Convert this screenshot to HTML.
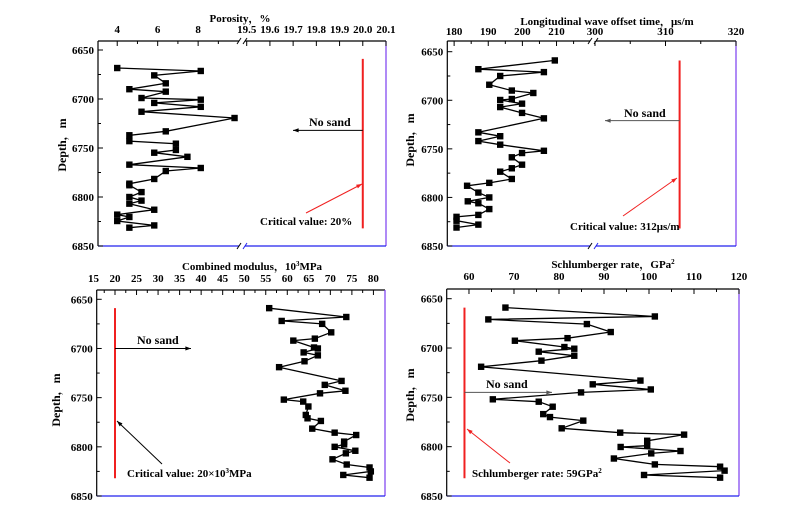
<!DOCTYPE html>
<html><head><meta charset="utf-8"><style>
body{margin:0;background:#fff;}
svg{display:block;font-family:"Liberation Serif","Noto Serif CJK SC",serif;font-weight:bold;}
</style></head><body>
<svg id="chart" width="796" height="525" viewBox="0 0 796 525" xmlns="http://www.w3.org/2000/svg"></svg>
<script>
const depthTicks=[6650,6700,6750,6800,6850];
const p1Depth=[6668.4,6671.4,6675.9,6684,6690,6692.5,6699,6700.7,6704,6708,6713,6719.4,6733,6737,6743,6745.6,6752,6754.8,6759,6767,6770.4,6773.5,6781.6,6786.4,6788,6795,6800,6803.7,6806.8,6813,6818,6820.4,6824.5,6829,6831.3];
const p1Vals=[4,8.13,5.83,6.4,4.6,6.4,5.2,8.13,5.83,8.13,5.2,9.8,6.4,4.6,4.6,6.9,6.9,5.83,7.47,4.6,8.13,6.4,5.83,4.6,4.6,5.2,4.6,5.2,4.6,5.83,4,4.6,4,5.83,4.6];
const p1Ticks1=[4,6,8];const p1Ticks2=[19.5,19.6,19.7,19.8,19.9,20.0,20.1];
const p2Depth=[6659,6668,6671,6675,6684,6690,6692.5,6698.7,6699.7,6703.5,6707,6713,6718.6,6733,6737,6742,6745.7,6752,6754.3,6758.7,6766.3,6770,6773.5,6781,6785,6788,6795,6800,6804,6806,6812,6818,6820,6824,6828,6831];
const p2Vals=[209.5,187.1,206.3,193.5,190.3,196.9,203.2,196.9,193.5,199.9,193.5,199.9,206.3,187.1,193.5,187.1,193.5,206.3,199.9,196.9,199.9,196.9,193.5,196.9,190.3,183.8,187.1,190.3,184,187.1,190.3,187.1,180.7,180.7,187.1,180.7];
const p2Ticks1=[180,190,200,210];const p2Ticks2=[300,310,320];
const p3Depth=[6659,6668,6672,6675,6683.6,6690,6692,6699,6700,6704,6707,6713,6719,6733,6737,6743,6745.6,6752,6754,6759,6767.6,6771,6773.7,6781.5,6785.6,6788,6794.7,6797.5,6800,6804,6806.6,6812.7,6818,6821,6825,6828.6,6831.4];
const p3Vals=[55.8,73.7,58.7,68.1,70.2,66.4,61.4,66.2,67.1,63.8,67.1,64,58.1,72.6,68.7,73.5,67.6,59.2,63.7,64.9,64.3,64.7,67.8,65.8,71,76,73.2,73.2,71,75.8,73.6,70.5,73.8,79.1,79.4,73,79.1];
const p3Ticks=[15,20,25,30,35,40,45,50,55,60,65,70,75,80];
const p4Depth=[6659,6668,6671,6675.7,6683.8,6690,6692.6,6699,6700.7,6703.7,6707.8,6712.8,6719,6733,6736.8,6742,6745,6752,6754.4,6759.5,6767,6770,6773.6,6781.4,6785.8,6787.8,6794,6799,6800.3,6804.4,6806.8,6812,6818,6820.3,6824.3,6828.7,6831.4];
const p4Vals=[68.1,101.3,64.3,86.2,91.5,81.9,70.2,81.2,83.4,75.5,83.4,76.1,62.7,98.1,87.5,100.4,84.9,65.3,75.5,78.6,76.5,78,85.4,80.6,93.6,107.8,99.6,99.6,93.7,107,100.5,92.2,101.3,115.8,116.8,98.9,115.8];
const p4Ticks=[60,70,80,90,100,110,120];

const NS="http://www.w3.org/2000/svg";const svg=document.getElementById('chart');
function mk(tag,attrs,parent){const e=document.createElementNS(NS,tag);for(const k in attrs)e.setAttribute(k,attrs[k]);(parent||svg).appendChild(e);return e;}
function txt(s,x,y,size,anchor,parent){const t=mk('text',{x:x,y:y,'font-size':size,'text-anchor':anchor||'middle'},parent);t.textContent=s;return t;}
function segScale(segs){return v=>{for(const s of segs){if(v>=s.d0-1e-9&&v<=s.d1+1e-9)return s.p0+(v-s.d0)/(s.d1-s.d0)*(s.p1-s.p0);}return segs[0].p0;};}

function panel(cfg){
  const g=mk('g',{});
  
  
  const x=segScale(cfg.segs);
  const y=d=>cfg.y0+(d-6650)/200*(cfg.y1-cfg.y0);
  const L=cfg.left,R=cfg.right,T=cfg.top,B=cfg.y1;
  // axes
  mk('line',{x1:L,y1:T,x2:R,y2:T,stroke:'#000','stroke-width':1.2},g);
  mk('line',{x1:L,y1:T,x2:L,y2:B,stroke:'#000','stroke-width':1.2},g);
  mk('line',{x1:R,y1:T,x2:R,y2:B,stroke:'#7a3cf0','stroke-width':1.2},g);
  mk('line',{x1:L,y1:B,x2:R,y2:B,stroke:'#2222ee','stroke-width':1.2},g);
  if(cfg.brk){const bx=cfg.brk;
    mk('rect',{x:bx-1,y:T-3,width:cfg.brkW,height:6,fill:'#fff'},g);
    mk('rect',{x:bx-1,y:B-3,width:cfg.brkW,height:6,fill:'#fff'},g);
    for(const yy of [T,B]){mk('line',{x1:bx-3,y1:yy+3,x2:bx+1,y2:yy-3,stroke:'#000','stroke-width':1},g);mk('line',{x1:bx-3+cfg.brkW,y1:yy+3,x2:bx+1+cfg.brkW,y2:yy-3,stroke:yy===B?'#2222ee':'#000','stroke-width':1},g);}
  }
  // y ticks
  const ya=mk('g',{},g);
  depthTicks.forEach((d,i)=>{const yy=y(d);mk('line',{x1:L,y1:yy,x2:L+5,y2:yy,stroke:'#000'},ya);txt(String(d),L-4,yy+4,11,'end',ya);
    if(i<depthTicks.length-1){const ym=y(d+25);mk('line',{x1:L,y1:ym,x2:L+3,y2:ym,stroke:'#000'},ya);}});
  const yt=txt('Depth，m',0,0,12,'middle',g);yt.setAttribute('transform','translate('+cfg.ytX+','+cfg.ytY+') rotate(-90)');
  
  // x ticks
  const xa=mk('g',{},g);
  cfg.ticks.forEach(tk=>{const xx=x(tk.v);if(xx>=L-0.5&&xx<=R+0.5)mk('line',{x1:xx,y1:T,x2:xx,y2:T+5,stroke:'#000'},xa);txt(tk.label,xx,cfg.tickY,11,'middle',xa);});
  cfg.minor.forEach(v=>{const xx=x(v);mk('line',{x1:xx,y1:T,x2:xx,y2:T+3,stroke:'#000'},xa);});
  const xt=mk('text',{x:cfg.titleX,y:cfg.titleY,'font-size':11,'text-anchor':'middle'},g);
  xt.innerHTML=cfg.title;
  // critical line
  const cl=mk('line',{x1:x(cfg.crit),y1:y(6659),x2:x(cfg.crit),y2:y(6832),stroke:'#f02020','stroke-width':2},g);
  
  // series
  const pts=cfg.vals.map((v,i)=>x(v).toFixed(1)+','+y(cfg.depth[i]).toFixed(1)).join(' ');
  const pl=mk('polyline',{points:pts,fill:'none',stroke:'#000','stroke-width':1.3},g);
  
  cfg.vals.forEach((v,i)=>{const r=mk('rect',{x:x(v)-3.2,y:y(cfg.depth[i])-3.2,width:6.4,height:6.4,fill:'#000'},g);
    });
  // annotations
  cfg.ann(g,x,y);
}
function arrow(g,x1,y1,x2,y2,col,name){
  const a=mk('g',{},g);
  mk('line',{x1:x1,y1:y1,x2:x2,y2:y2,stroke:col,'stroke-width':1},a);
  const ang=Math.atan2(y2-y1,x2-x1),s=6;
  const p=[[x2,y2],[x2-s*Math.cos(ang-0.35),y2-s*Math.sin(ang-0.35)],[x2-s*Math.cos(ang+0.35),y2-s*Math.sin(ang+0.35)]];
  mk('polygon',{points:p.map(q=>q.join(',')).join(' '),fill:col},a);
}
function label(g,s,x,y,size,name){const t=txt(s,x,y,size,'start',g);return t;}

panel({name:'porosity-panel',segs:[{d0:3,d1:10.07,p0:97,p1:240},{d0:19.5,d1:20.1,p0:246.7,p1:386}],
  left:98,right:386,top:41,y0:50,y1:246,brk:240,brkW:6,
  ticks:p1Ticks1.map(v=>({v:v,label:String(v)})).concat(p1Ticks2.map(v=>({v:v,label:v.toFixed(1)}))),
  minor:[5,7,9],tickY:33,title:'Porosity，%',titleX:240,titleY:22,ytX:66,ytY:145,
  crit:20.0,depth:p1Depth,vals:p1Vals,
  ann:(g,x,y)=>{arrow(g,x(20.0),y(6732),293,y(6732),'#000','no-sand-arrow');label(g,'No sand',309,126,12,'no-sand-label');
    arrow(g,306,213,362,184,'#f02020','critical-arrow');label(g,'Critical value: 20%',260,225,11,'critical-label');}});

panel({name:'wave-time-panel',segs:[{d0:178,d1:220.6,p0:447.3,p1:592.7},{d0:299.9,d1:320,p0:594.3,p1:736}],
  left:447.3,right:736,top:41,y0:51.7,y1:246,brk:591,brkW:6,
  ticks:p2Ticks1.concat(p2Ticks2).map(v=>({v:v,label:String(v)})),
  minor:[185,195,205,215,305,315],tickY:35,title:'Longitudinal wave offset time，μs/m',titleX:607,titleY:25,ytX:414,ytY:140,
  crit:312,depth:p2Depth,vals:p2Vals,
  ann:(g,x,y)=>{arrow(g,x(312),y(6721),605,y(6721),'#555','no-sand-arrow');label(g,'No sand',624,117,12,'no-sand-label');
    arrow(g,623,216,677,178,'#f02020','critical-arrow');label(g,'Critical value: 312μs/m',570,230,11,'critical-label');}});

panel({name:'combined-modulus-panel',segs:[{d0:14,d1:85,p0:115-6*4.307,p1:115+65*4.307}],
  left:96.7,right:385,top:290,y0:299.3,y1:496,brk:0,
  ticks:p3Ticks.map(v=>({v:v,label:String(v)})),
  minor:[22.5,27.5,32.5,37.5,42.5,47.5,52.5,57.5,62.5,67.5,72.5,77.5,17.5],tickY:282,title:'Combined modulus，10<tspan font-size="7" dy="-4">3</tspan><tspan dy="4">MPa</tspan>',titleX:252,titleY:270,ytX:60,ytY:400,
  crit:20,depth:p3Depth,vals:p3Vals,
  ann:(g,x,y)=>{arrow(g,x(20),y(6700),191,y(6700),'#000','no-sand-arrow');label(g,'No sand',137,344,12,'no-sand-label');
    arrow(g,162,464,117,421,'#000','critical-arrow');const t=label(g,'',127,477,11,'critical-label');t.innerHTML='Critical value: 20×10<tspan font-size="7" dy="-4">3</tspan><tspan dy="4">MPa</tspan>';}});

panel({name:'schlumberger-panel',segs:[{d0:55.05,d1:120,p0:446.7,p1:739}],
  left:446.7,right:739,top:289,y0:298.7,y1:496,brk:0,
  ticks:p4Ticks.map(v=>({v:v,label:String(v)})),
  minor:[65,75,85,95,105,115],tickY:280,title:'Schlumberger rate，GPa<tspan font-size="7" dy="-4">2</tspan>',titleX:613,titleY:268,ytX:414,ytY:395,
  crit:59,depth:p4Depth,vals:p4Vals,
  ann:(g,x,y)=>{arrow(g,x(59),y(6745),552,y(6745),'#555','no-sand-arrow');label(g,'No sand',486,388,12,'no-sand-label');
    arrow(g,510,463,467,429,'#f02020','critical-arrow');const t=label(g,'',472,477,11,'critical-label');t.innerHTML='Schlumberger rate: 59GPa<tspan font-size="7" dy="-4">2</tspan>';}});
</script>
</body></html>
